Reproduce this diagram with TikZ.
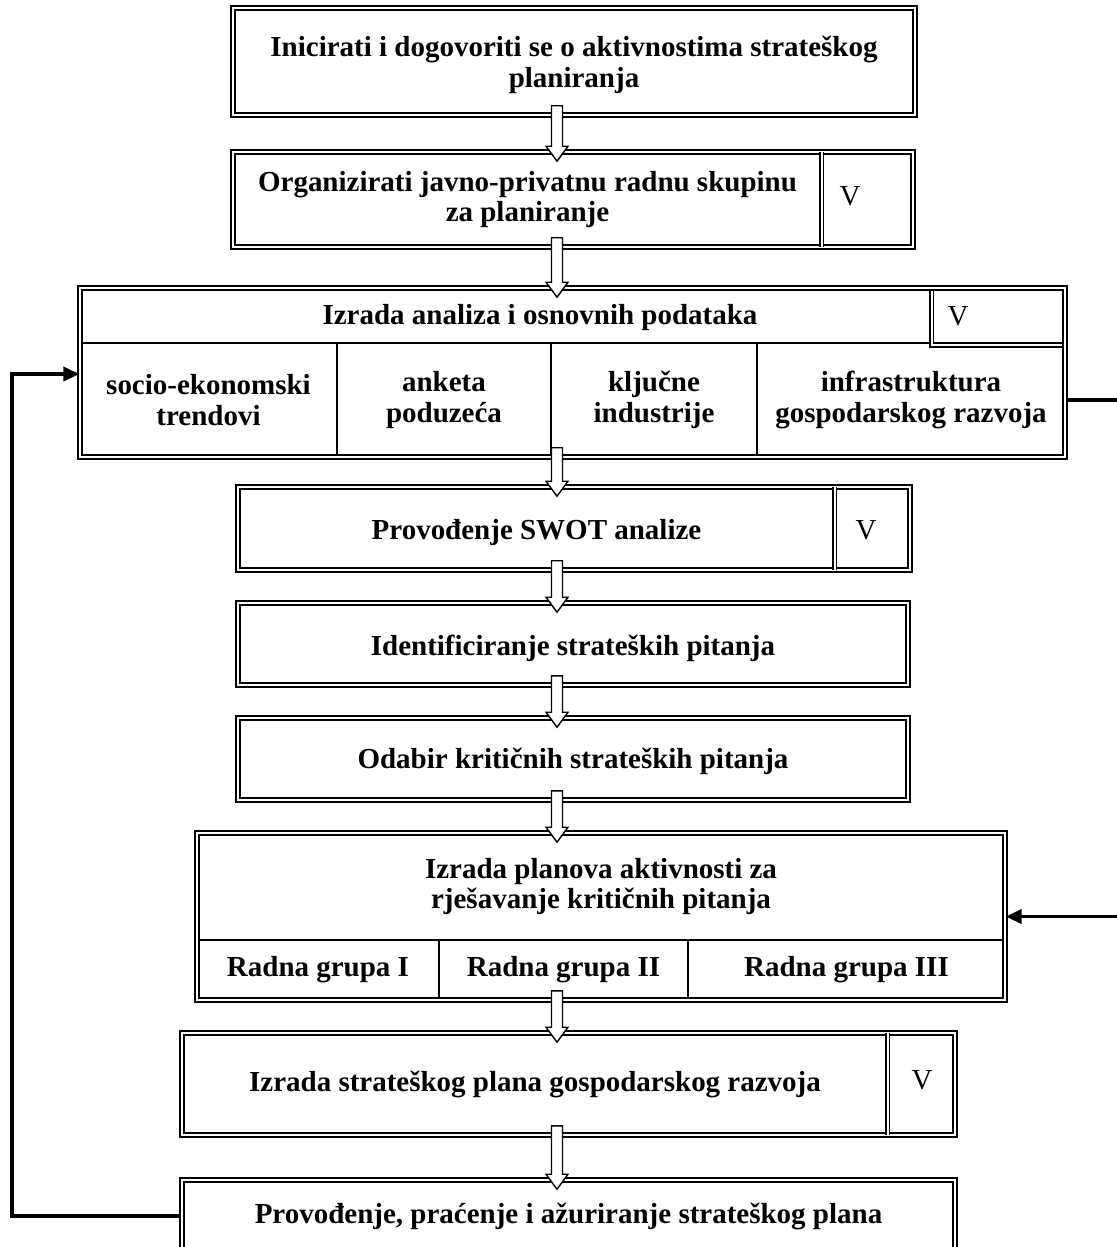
\documentclass[tikz,border=0pt]{standalone}
\usepackage{fontspec}
\setmainfont{Liberation Serif}
\usetikzlibrary{arrows.meta,
    calc,
    fit}

\tikzset{frame/.style = {draw, double, line width=0.9pt, double distance=1.1pt, inner sep=0pt},
         cell/.style = {draw, line width=0.9pt, inner sep=0pt},
         txt/.style = {align=center, inner sep=0pt},
         vsep/.style = {double, line width=0.8pt, double distance=1.1pt},
         vmark/.style = {font=\fontsize{16.5}{17.5}\selectfont, inner sep=0pt},
         hollow/.style = {draw, fill=white, line width=0.8pt},
         loop/.style = {line width=2.2pt, -{Triangle[length=9pt, width=8pt]}}
}

% hollow block arrow from the bottom of #1 to the top of #2
\newcommand{\flowarr}[2]{%
  \draw[hollow] ($(#1.south -| ax)+(-5.5,-10)$) -- ($(#2.north -| ax)+(-5.5,-5)$)
      -- ($(#2.north -| ax)+(-11,-5)$) -- ($(#2.north -| ax)+(0,10)$)
      -- ($(#2.north -| ax)+(11,-5)$) -- ($(#2.north -| ax)+(5.5,-5)$)
      -- ($(#1.south -| ax)+(5.5,-10)$) -- cycle;}

\begin{document}
\begin{tikzpicture}[x=0.02cm, y=-0.02cm,
                    font=\fontsize{16.5}{17.5}\selectfont\bfseries]
\useasboundingbox (0,0) rectangle (1116,1247);
\coordinate (ax) at (557,0);

% 1
\node[frame, fit={(233,8) (915,115)}] (b1) {};
\node[txt] (t1) at ($(b1)+(0,3)$) {Inicirati i dogovoriti se o aktivnostima strateškog\\planiranja};
% 2
\node[inner sep=0pt, fit={(233,152) (822,247)}] (b2t) {};
\node[inner sep=0pt, fit={(822,152) (913,247)}] (b2v) {};
\node[frame, fit={(233,152) (913,247)}] (b2) {};
\draw[vsep] (b2v.north west) -- (b2v.south west);
\node[txt] (t2) at (b2t) {Organizirati javno-privatnu radnu skupinu\\za planiranje};
\node[vmark] (v2) at (850,196) {V};
% 3
\node[cell, fit={(80,288) (932,343)}] (b3t) {};
\node[cell, fit={(80,343) (337,457)}] (b3a) {};
\node[cell, fit={(337,343) (551,457)}] (b3b) {};
\node[cell, fit={(551,343) (757,457)}] (b3c) {};
\node[cell, fit={(757,343) (1065,457)}] (b3d) {};
\node[inner sep=0pt, fit={(932,288) (1065,345)}] (b3v) {};
\draw[vsep] (b3v.north west) |- (b3v.south east);
\node[frame, fit={(80,288) (1065,457)}] (b3) {};
\node[txt] (t3) at ($(b3t)+(34,2)$) {Izrada analiza i osnovnih podataka};
\node[vmark] (v3) at (958,316) {V};
\node[txt] (t3a) at (b3a) {socio-ekonomski\\trendovi};
\node[txt] (t3b) at (b3b) {anketa\\poduzeća};
\node[txt] (t3c) at (b3c) {ključne\\industrije};
\node[txt] (t3d) at (b3d) {infrastruktura\\gospodarskog razvoja};
% 4
\node[inner sep=0pt, fit={(238,487) (835,570)}] (b4t) {};
\node[inner sep=0pt, fit={(835,487) (910,570)}] (b4v) {};
\node[frame, fit={(238,487) (910,570)}] (b4) {};
\draw[vsep] (b4v.north west) -- (b4v.south west);
\node[txt] (t4) at ($(b4t)+(0,4)$) {Provođenje SWOT analize};
\node[vmark] (v4) at (866,530) {V};
% 5, 6
\node[frame, fit={(238,603) (908,685)}] (b5) {};
\node[txt] (t5) at ($(b5)+(0,4)$) {Identificiranje strateških pitanja};
\node[frame, fit={(238,718) (908,800)}] (b6) {};
\node[txt] (t6) at ($(b6)+(0,2)$) {Odabir kritičnih strateških pitanja};
% 7
\node[cell, fit={(197,833) (1005,940)}] (b7t) {};
\node[cell, fit={(197,940) (439,1000)}] (b7a) {};
\node[cell, fit={(439,940) (688,1000)}] (b7b) {};
\node[cell, fit={(688,940) (1005,1000)}] (b7c) {};
\node[frame, fit={(197,833) (1005,1000)}] (b7) {};
\node[txt] (t7) at (b7t) {Izrada planova aktivnosti za\\rješavanje kritičnih pitanja};
\node[txt] (t7a) at (b7a) {Radna grupa I};
\node[txt] (t7b) at (b7b) {Radna grupa II};
\node[txt] (t7c) at (b7c) {Radna grupa III};
% 8
\node[inner sep=0pt, fit={(182,1033) (888,1135)}] (b8t) {};
\node[inner sep=0pt, fit={(888,1033) (955,1135)}] (b8v) {};
\node[frame, fit={(182,1033) (955,1135)}] (b8) {};
\draw[vsep] (b8v.north west) -- (b8v.south west);
\node[txt] (t8) at (b8t) {Izrada strateškog plana gospodarskog razvoja};
\node[vmark] (v8) at (922,1080) {V};
% 9
\node[frame, fit={(182,1180) (955,1252)}] (b9) {};
\node[txt] (t9) at (b9) {Provođenje, praćenje i ažuriranje strateškog plana};

\flowarr{b1}{b2}
\flowarr{b2}{b3}
\flowarr{b3}{b4}
\flowarr{b4}{b5}
\flowarr{b5}{b6}
\flowarr{b6}{b7}
\flowarr{b7}{b8}
\flowarr{b8}{b9}

% feedback lines
\coordinate (inl) at (12,374);
\coordinate (outr) at (1135,400);
\draw[loop] (b9.west) -| (inl) -- (inl -| b3.west);
\draw[loop] (b3d.east) -- (outr) |- (b7.east);
\end{tikzpicture}
\end{document}
